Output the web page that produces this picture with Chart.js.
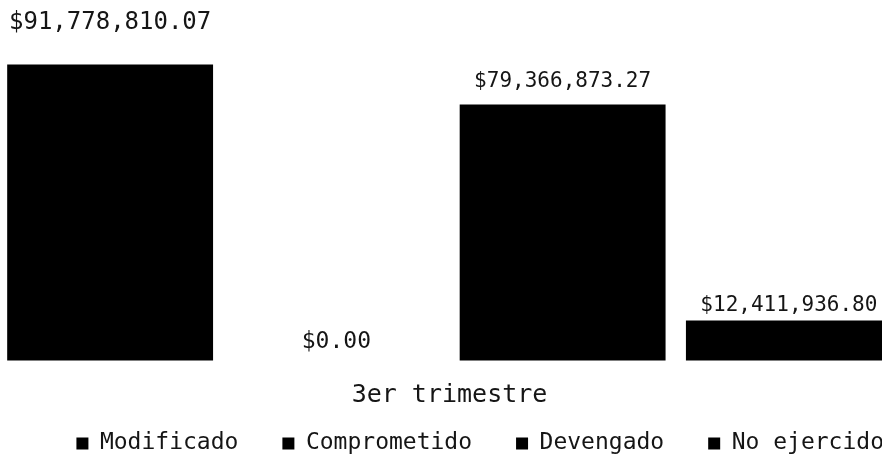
<!DOCTYPE html>
<html>
<head>
<meta charset="utf-8">
<script src="https://cdn.jsdelivr.net/npm/chart.js@4/dist/chart.umd.min.js"></script>
<style>
  html, body { margin: 0; padding: 0; background: #fff; }
  #wrap { position: relative; width: 882px; height: 458px; overflow: hidden; background: #fff; }
  #c { position: absolute; left: -3px; top: 0; }
</style>
</head>
<body>
<div id="wrap"><canvas id="c" width="931" height="465"></canvas></div>
<script>
// ---- data ----
const categories = ['3er trimestre'];
const seriesNames = ['Modificado', 'Comprometido', 'Devengado', 'No ejercido'];
const modificado = [91778810.07];
const comprometido = [0.00];
const devengado = [79366873.27];
const noEjercido = [12411936.80];

// ---- styling ----
const FONT = '"DejaVu Sans Mono", "Liberation Mono", monospace';
const TEXT = '#151515';

function money(v) {
  const fixed = Math.abs(v).toFixed(2);
  const [intPart, dec] = fixed.split('.');
  const withCommas = intPart.replace(/\B(?=(\d{3})+(?!\d))/g, ',');
  return (v < 0 ? '-$' : '$') + withCommas + '.' + dec;
}

const valueLabels = {
  id: 'valueLabels',
  afterDatasetsDraw(chart, args, opts) {
    const ctx = chart.ctx;
    ctx.save();
    ctx.fillStyle = TEXT;
    ctx.textAlign = 'center';
    ctx.textBaseline = 'alphabetic';
    chart.data.datasets.forEach((ds, i) => {
      const meta = chart.getDatasetMeta(i);
      meta.data.forEach((bar, j) => {
        const size = opts.sizes[i];
        ctx.font = size + 'px ' + FONT;
        ctx.fillText(money(ds.data[j]), bar.x, bar.y - opts.gaps[i]);
      });
    });
    ctx.restore();
  }
};

const seriesData = [modificado, comprometido, devengado, noEjercido];

new Chart(document.getElementById('c'), {
  type: 'bar',
  data: {
    labels: categories,
    datasets: seriesNames.map((name, i) => ({
      label: name,
      data: seriesData[i],
      backgroundColor: '#000',
      borderWidth: 0,
      clip: false,
      categoryPercentage: 1,
      barPercentage: 0.91
    }))
  },
  options: {
    responsive: false,
    animation: false,
    devicePixelRatio: 1,
    layout: { padding: 0 },
    plugins: {
      tooltip: { enabled: false },
      title: { display: false },
      legend: {
        position: 'bottom',
        align: 'end',
        labels: {
          color: TEXT,
          font: { family: FONT, size: 23 },
          boxWidth: 12,
          boxHeight: 12,
          padding: 44
        }
      },
      valueLabels: {
        gaps: [36, 13, 18, 9],
        sizes: [24, 23, 21, 21]
      }
    },
    scales: {
      x: {
        grid: { display: false, drawTicks: false },
        border: { display: false },
        ticks: { color: TEXT, font: { family: FONT, size: 25 }, padding: -50, mirror: true },
        afterFit(s) { s.height = 27.5; }
      },
      y: {
        position: 'right',
        min: 0,
        max: 111800000,
        grid: { display: false, drawTicks: false },
        border: { display: false },
        ticks: { display: false },
        afterFit(s) { s.width = 26; }
      }
    }
  },
  plugins: [valueLabels]
});
</script>
</body>
</html>
